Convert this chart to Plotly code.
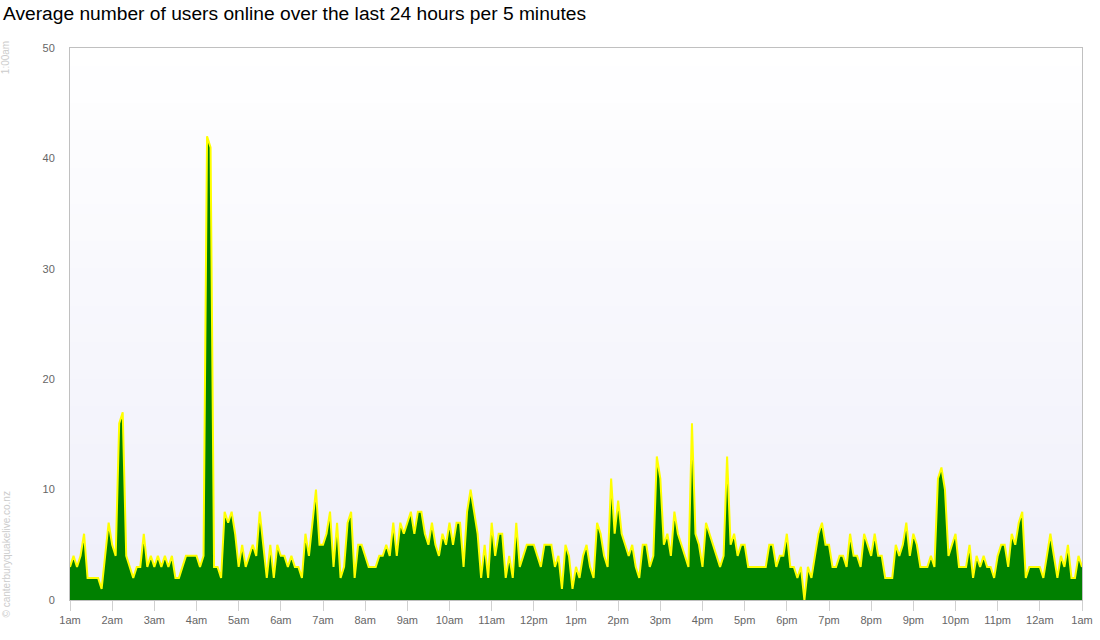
import plotly.graph_objects as go

# ---- data (5-minute averages, 1am -> 1am, 289 points) ----
hour_labels = ["1am", "2am", "3am", "4am", "5am", "6am", "7am", "8am", "9am", "10am",
               "11am", "12pm", "1pm", "2pm", "3pm", "4pm", "5pm", "6pm", "7pm", "8pm",
               "9pm", "10pm", "11pm", "12am", "1am"]

users_01 = [3, 4, 3, 4, 6, 2, 2, 2, 2, 1, 4, 7, 5, 4, 16, 17, 4, 3, 2, 3, 3, 6, 3, 4]
users_03 = [3, 4, 3, 4, 3, 4, 2, 2, 3, 4, 4, 4, 4, 3, 4, 42, 41, 3, 3, 2, 8, 7, 8, 6]
users_05 = [3, 5, 3, 4, 5, 4, 8, 5, 2, 5, 2, 5, 4, 4, 3, 4, 3, 3, 2, 6, 4, 7, 10, 5]
users_07 = [5, 6, 8, 3, 7, 2, 3, 7, 8, 2, 5, 5, 4, 3, 3, 3, 4, 4, 5, 4, 7, 4, 7, 6]
users_09 = [7, 8, 6, 8, 8, 6, 5, 7, 5, 4, 6, 5, 7, 5, 7, 7, 3, 8, 10, 8, 6, 2, 5, 2]
users_11 = [7, 4, 6, 6, 2, 4, 2, 7, 3, 4, 5, 5, 5, 4, 3, 5, 5, 5, 3, 4, 1, 5, 4, 1]
users_13 = [3, 2, 4, 5, 3, 2, 7, 6, 4, 3, 11, 6, 9, 6, 5, 4, 5, 3, 2, 5, 5, 3, 4, 13]
users_15 = [11, 5, 6, 4, 8, 6, 5, 4, 3, 16, 6, 5, 3, 7, 6, 5, 4, 3, 4, 13, 5, 6, 4, 5]
users_17 = [5, 3, 3, 3, 3, 3, 3, 5, 5, 3, 4, 4, 6, 3, 3, 2, 3, 0, 3, 2, 4, 6, 7, 5]
users_19 = [5, 3, 3, 4, 4, 3, 6, 4, 4, 3, 6, 5, 4, 6, 4, 4, 2, 2, 2, 5, 4, 5, 7, 4]
users_21 = [6, 5, 3, 3, 3, 4, 3, 11, 12, 10, 4, 5, 6, 3, 3, 3, 5, 2, 4, 3, 4, 3, 3, 2]
users_23 = [4, 5, 5, 3, 6, 5, 7, 8, 2, 3, 3, 3, 3, 2, 4, 6, 4, 2, 4, 3, 5, 2, 2, 4, 3]

users = (users_01 + users_03 + users_05 + users_07 + users_09 + users_11 +
         users_13 + users_15 + users_17 + users_19 + users_21 + users_23)
slots = list(range(len(users)))
hour_ticks = list(range(0, len(users), 12))

fig = go.Figure()
fig.add_trace(go.Scatter(
    x=slots, y=users, mode="lines",
    line=dict(color="#ffff00", width=2),
    fill="tozeroy", fillcolor="#008000",
    hoverinfo="x+y", showlegend=False,
))

# vertical gradient background of the plotting area (overlapping bands)
shapes = []
n = 60
top = (255, 255, 255)
bot = (239, 239, 250)
for k in range(n):
    t = (k + 0.5) / n
    c = tuple(round(top[j] + (bot[j] - top[j]) * t) for j in range(3))
    shapes.append(dict(type="rect", xref="paper", yref="paper",
                       x0=0, x1=1, y0=max(0, 1 - (k + 1) / n - 0.004), y1=1 - k / n,
                       fillcolor="rgb(%d,%d,%d)" % c, line=dict(width=0),
                       layer="below"))

fig.update_layout(
    width=1100, height=640,
    margin=dict(l=70, r=18, t=48, b=40, autoexpand=False),
    paper_bgcolor="white", plot_bgcolor="rgba(0,0,0,0)",
    shapes=shapes,
    title=dict(text="Average number of users online over the last 24 hours per 5 minutes",
               x=3 / 1100, xanchor="left", y=1 - 13 / 640, yanchor="middle",
               font=dict(family="Liberation Sans, Arial, sans-serif", size=19.2, color="#000")),
    font=dict(family="Liberation Sans, Arial, sans-serif", size=11, color="#666"),
    xaxis=dict(range=[0, len(users) - 1], tickmode="array", tickvals=hour_ticks,
               ticktext=hour_labels, showgrid=False, zeroline=False, automargin=False,
               showline=True, linecolor="#c0c0c0", linewidth=1, mirror=True,
               ticks="outside", ticklen=10, tickcolor="#d0d0d0",
               tickfont=dict(color="#666", size=11)),
    yaxis=dict(range=[0, 50], tickvals=[0, 10, 20, 30, 40, 50], showgrid=False,
               zeroline=False, showline=True, linecolor="#c0c0c0", linewidth=1,
               mirror=True, ticks="", ticklabelstandoff=12, automargin=False,
               tickfont=dict(color="#666", size=11)),
    annotations=[
        dict(text="1:00am", xref="paper", yref="paper", x=-0.063, y=0.982,
             xanchor="center", yanchor="middle", textangle=-90, showarrow=False,
             font=dict(size=10, color="#cccccc")),
        dict(text="© canterburyquakelive.co.nz", xref="paper", yref="paper",
             x=-0.063, y=0.083, xanchor="center", yanchor="middle", textangle=-90,
             showarrow=False, font=dict(size=10, color="#cccccc")),
    ],
)

fig.write_html("out.html", config={"displayModeBar": False},
               post_script="document.body.style.margin='0';document.body.style.overflow='hidden';")
